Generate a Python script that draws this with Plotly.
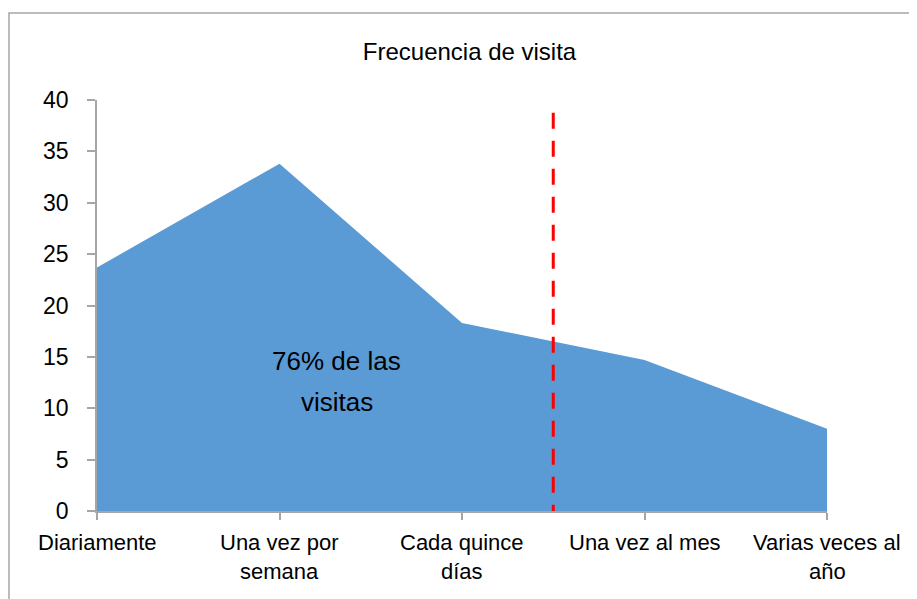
import plotly.graph_objects as go

categories = ["Diariamente", "Una vez por<br>semana", "Cada quince<br>días",
              "Una vez al mes", "Varias veces al<br>año"]
values = [23.7, 33.8, 18.3, 14.7, 8.0]
y_ticks = [0, 5, 10, 15, 20, 25, 30, 35, 40]
divider_x = 2.5
divider_top = 38.75
note_lines = ["76% de las", "visitas"]

FONT = "Liberation Sans, Arial, sans-serif"
x_idx = list(range(len(categories)))

# page body has an 8px margin: figure is sized/margined to compensate
W, H = 909, 591
ML, MR, MT, MB = 89, 90, 92, 88
PW, PH = W - ML - MR, H - MT - MB

fig = go.Figure()
fig.add_trace(go.Scatter(
    x=x_idx, y=values, mode="lines", fill="tozeroy",
    line=dict(color="#5b9bd5", width=0), fillcolor="#5b9bd5",
    hoverinfo="skip", showlegend=False,
))

fig.add_shape(type="line", xref="x", yref="y",
              x0=divider_x, x1=divider_x, y0=divider_top, y1=0,
              line=dict(color="#ff0000", width=3, dash="16px,12px"))

# outer chart border
fig.add_shape(type="rect", xref="paper", yref="paper",
              x0=(1 - ML) / PW, x1=1.3, y0=-0.4, y1=(MT + PH - 5) / PH,
              line=dict(color="#a6a6a6", width=1.5), fillcolor="rgba(0,0,0,0)",
              layer="below")

for i, line in enumerate(note_lines):
    fig.add_annotation(x=1.315, y=14.6 - 4.0 * i, xref="x", yref="y", text=line,
                       showarrow=False, font=dict(family=FONT, size=26, color="#000"),
                       yanchor="middle")

# category labels (Excel-like tight line spacing)
for xi, cat in zip(x_idx, categories):
    for j, line in enumerate(cat.split("<br>")):
        fig.add_annotation(x=xi, y=(-31 - 29 * j) / PH, xref="x", yref="paper",
                           text=line, showarrow=False, yanchor="middle",
                           font=dict(family=FONT, size=22, color="#000"))

fig.update_layout(
    width=W, height=H,
    margin=dict(l=ML, r=MR, t=MT, b=MB),
    paper_bgcolor="white", plot_bgcolor="white",
    font=dict(family=FONT, size=22, color="#000"),
    title=dict(text="Frecuencia de visita", x=(469.5 - 8) / W, xanchor="center",
               xref="container", y=1 - (52 - 8) / H, yanchor="middle",
               yref="container", font=dict(family=FONT, size=24, color="#000")),
    showlegend=False,
)
fig.update_xaxes(
    range=[0, 4], tickvals=x_idx, showticklabels=False,
    showgrid=False, zeroline=False, showline=True, linecolor="#a6a6a6", linewidth=1.5,
    ticks="outside", ticklen=7, tickcolor="#a6a6a6", tickwidth=1.5,
)
fig.update_yaxes(
    range=[0, 40], tickvals=y_ticks,
    showgrid=False, zeroline=False, showline=True, linecolor="#a6a6a6", linewidth=1.5,
    ticks="outside", ticklen=8, tickcolor="#a6a6a6", tickwidth=1.5,
    tickfont=dict(family=FONT, size=23, color="#000"), ticklabelstandoff=14,
)

fig.write_html("out.html")
